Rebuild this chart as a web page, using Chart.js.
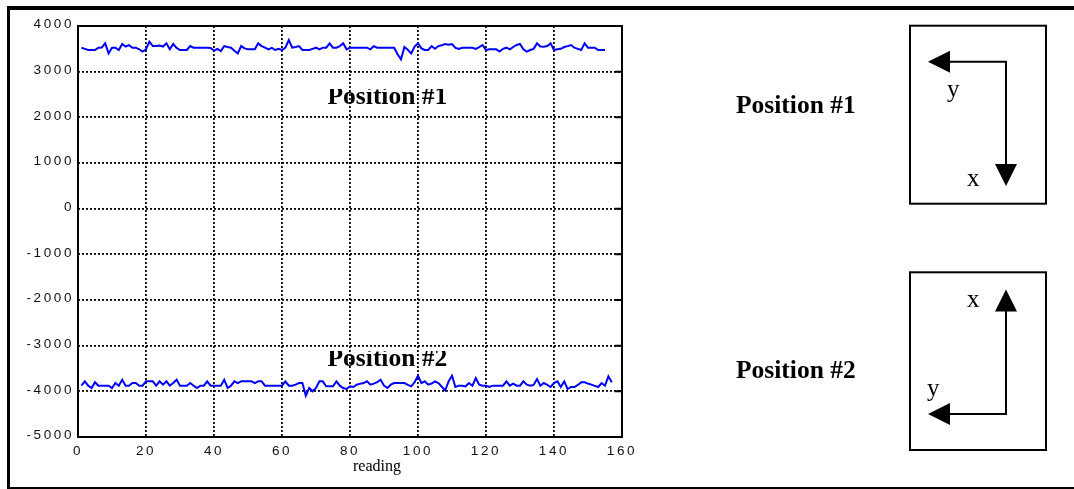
<!DOCTYPE html>
<html>
<head>
<meta charset="utf-8">
<script src="https://cdn.jsdelivr.net/npm/chart.js@4.4.1/dist/chart.umd.min.js"></script>
<style>
  html, body { margin: 0; padding: 0; background: #fff; }
  #wrap { position: relative; width: 1074px; height: 489px; }
  canvas { display: block; }
</style>
</head>
<body>
<div id="wrap"><canvas id="c" width="1074" height="489"></canvas></div>
<script>
// Sensor output per reading, sensor held in two orientations
const position1Values = [
  3525, 3500, 3475, 3475, 3475, 3525, 3530, 3620, 3400, 3525,
  3525, 3475, 3605, 3550, 3580, 3525, 3525, 3490, 3440, 3490,
  3657, 3560, 3560, 3570, 3550, 3620, 3490, 3606, 3520, 3474,
  3474, 3474, 3560, 3525, 3525, 3525, 3525, 3525, 3520, 3460,
  3500, 3450, 3560, 3540, 3525, 3460, 3400, 3560, 3510, 3489,
  3489, 3489, 3620, 3560, 3525, 3489, 3520, 3474, 3500, 3474,
  3525, 3693, 3525, 3540, 3560, 3474, 3474, 3474, 3500, 3525,
  3489, 3525, 3525, 3620, 3525, 3525, 3560, 3620, 3489, 3525,
  3525, 3525, 3525, 3525, 3525, 3489, 3560, 3525, 3525, 3525,
  3525, 3525, 3525, 3380, 3270, 3540, 3480, 3400, 3550, 3620,
  3510, 3474, 3474, 3560, 3500, 3560, 3580, 3606, 3590, 3606,
  3520, 3500, 3525, 3525, 3525, 3525, 3500, 3540, 3584, 3474,
  3489, 3489, 3489, 3440, 3500, 3525, 3489, 3540, 3584, 3606,
  3490, 3438, 3474, 3500, 3620, 3550, 3547, 3560, 3620, 3474,
  3489, 3500, 3540, 3560, 3584, 3525, 3500, 3474, 3620, 3525,
  3525, 3525, 3474, 3474, 3474
];
const position2Values = [
  -3876, -3781, -3876, -3927, -3800, -3876, -3876, -3876, -3876, -3927,
  -3818, -3876, -3745, -3876, -3876, -3818, -3818, -3876, -3876, -3781,
  -3781, -3781, -3876, -3781, -3854, -3781, -3876, -3818, -3745, -3876,
  -3876, -3876, -3818, -3876, -3927, -3876, -3876, -3781, -3876, -3876,
  -3876, -3876, -3745, -3927, -3876, -3781, -3818, -3781, -3781, -3781,
  -3781, -3818, -3781, -3781, -3876, -3876, -3876, -3876, -3876, -3876,
  -3781, -3876, -3876, -3854, -3818, -3818, -4095, -3927, -4000, -3927,
  -3781, -3781, -3890, -3890, -3890, -3781, -3876, -3927, -3949, -3890,
  -3905, -3854, -3832, -3818, -3781, -3854, -3832, -3800, -3745, -3876,
  -3927, -3854, -3818, -3818, -3818, -3818, -3860, -3890, -3800, -3657,
  -3818, -3781, -3854, -3830, -3781, -3818, -3900, -3978, -3781, -3657,
  -3905, -3876, -3876, -3890, -3818, -3876, -3708, -3854, -3876, -3876,
  -3905, -3876, -3876, -3876, -3876, -3781, -3876, -3832, -3876, -3876,
  -3781, -3854, -3876, -3860, -3730, -3876, -3818, -3860, -3905, -3818,
  -3781, -3905, -3781, -3949, -3905, -3905, -3860, -3803, -3803, -3830,
  -3854, -3880, -3905, -3818, -3876, -3671, -3803
];
// Reading numbers start at 1
const readings1 = position1Values.map((_, i) => i + 1);
const readings2 = position2Values.map((_, i) => i + 1);

const xTickValues = [0, 20, 40, 60, 80, 100, 120, 140, 160];
const yTickValues = [4000, 3000, 2000, 1000, 0, -1000, -2000, -3000, -4000, -5000];
const xAxisTitle = 'reading';
const positionLabels = ['Position #1', 'Position #2'];

// In-plot label anchors (data units): centre x, baseline y, clip top y
const labelAnchors = [
  { x: 91, y: 2290, clipTop: 2620 },
  { x: 91, y: -3446, clipTop: -3115 }
];

const TICK_SPACING = '2.6px';
const SERIF = '"Liberation Serif", "Times New Roman", serif';
const SANS = '"Liberation Sans", Arial, sans-serif';

function arrowHead(ctx, tipX, tipY, dir) {
  // dir: 'left' | 'down' | 'up'
  const len = 22, half = 11;
  ctx.beginPath();
  if (dir === 'left') {
    ctx.moveTo(tipX, tipY);
    ctx.lineTo(tipX + len, tipY - half);
    ctx.lineTo(tipX + len, tipY + half);
  } else if (dir === 'down') {
    ctx.moveTo(tipX, tipY);
    ctx.lineTo(tipX - half, tipY - len);
    ctx.lineTo(tipX + half, tipY - len);
  } else {
    ctx.moveTo(tipX, tipY);
    ctx.lineTo(tipX - half, tipY + len);
    ctx.lineTo(tipX + half, tipY + len);
  }
  ctx.closePath();
  ctx.fill();
}

const decorations = {
  id: 'decorations',
  beforeDraw(chart) {
    const ctx = chart.ctx;
    const xs = chart.scales.x, ys = chart.scales.y;
    ctx.save();
    ctx.letterSpacing = '0px';
    ctx.fillStyle = '#000';
    ctx.font = 'bold 25.5px ' + SERIF;
    ctx.textAlign = 'center';
    ctx.textBaseline = 'alphabetic';
    labelAnchors.forEach((a, i) => {
      const px = xs.getPixelForValue(a.x);
      const py = ys.getPixelForValue(a.y);
      const top = ys.getPixelForValue(a.clipTop);
      ctx.save();
      ctx.beginPath();
      ctx.rect(px - 80, top, 160, py - top + 12);
      ctx.clip();
      ctx.fillText(positionLabels[i], px, py);
      ctx.restore();
    });
    ctx.restore();
    ctx.letterSpacing = TICK_SPACING;
  },
  beforeDatasetsDraw(chart) {
    const ctx = chart.ctx;
    const a = chart.chartArea;
    const ys = chart.scales.y;
    ctx.save();
    ctx.strokeStyle = '#000';
    ctx.lineWidth = 2;
    ctx.setLineDash([]);
    ctx.strokeRect(a.left, a.top, a.right - a.left, a.bottom - a.top);
    // short inward ticks on the right edge
    ctx.beginPath();
    yTickValues.forEach(v => {
      const py = ys.getPixelForValue(v);
      ctx.moveTo(a.right - 7, py);
      ctx.lineTo(a.right, py);
    });
    ctx.stroke();
    ctx.restore();
  },
  afterDraw(chart) {
    const ctx = chart.ctx;
    ctx.save();
    ctx.letterSpacing = '0px';
    ctx.fillStyle = '#000';
    ctx.strokeStyle = '#000';

    // outer frame
    ctx.fillRect(7, 6, 1067, 4);
    ctx.fillRect(7, 6, 3, 483);
    ctx.fillRect(7, 487, 1067, 2);

    // x-axis title
    ctx.font = '16px ' + SERIF;
    ctx.textAlign = 'center';
    ctx.textBaseline = 'middle';
    ctx.fillText(xAxisTitle, 377, 467);

    // side captions
    ctx.font = 'bold 25.5px ' + SERIF;
    ctx.textAlign = 'left';
    ctx.textBaseline = 'alphabetic';
    ctx.fillText(positionLabels[0], 736, 113);
    ctx.fillText(positionLabels[1], 736, 378);

    // orientation sketches
    ctx.lineWidth = 2;
    ctx.strokeRect(910, 25.7, 136, 178);
    ctx.strokeRect(910, 272.3, 136, 177.7);

    ctx.beginPath();
    ctx.moveTo(950, 61.7); ctx.lineTo(1006, 61.7); ctx.lineTo(1006, 165);
    ctx.stroke();
    arrowHead(ctx, 928, 61.7, 'left');
    arrowHead(ctx, 1006, 186, 'down');

    ctx.beginPath();
    ctx.moveTo(950, 414); ctx.lineTo(1006, 414); ctx.lineTo(1006, 311);
    ctx.stroke();
    arrowHead(ctx, 928, 414, 'left');
    arrowHead(ctx, 1006, 289.5, 'up');

    ctx.font = '25px ' + SERIF;
    ctx.fillText('y', 947, 96.5);
    ctx.fillText('x', 967, 186);
    ctx.fillText('x', 967, 307);
    ctx.fillText('y', 927, 395.5);
    ctx.restore();
  }
};

const plainNumber = v => String(v);

new Chart(document.getElementById('c'), {
  type: 'line',
  data: {
    datasets: [
      {
        label: positionLabels[0],
        data: readings1.map((r, i) => ({ x: r, y: position1Values[i] })),
        borderColor: '#0000ff', borderWidth: 2, pointRadius: 0, tension: 0, fill: false
      },
      {
        label: positionLabels[1],
        data: readings2.map((r, i) => ({ x: r, y: position2Values[i] })),
        borderColor: '#0000ff', borderWidth: 2, pointRadius: 0, tension: 0, fill: false
      }
    ]
  },
  options: {
    responsive: false,
    animation: false,
    events: [],
    layout: { padding: { top: 26, right: 452, left: 0, bottom: 0 } },
    plugins: { legend: { display: false }, tooltip: { enabled: false } },
    scales: {
      x: {
        type: 'linear', min: 0, max: 160,
        afterBuildTicks: s => { s.ticks = xTickValues.map(v => ({ value: v })); },
        afterFit: s => { s.height = 52; },
        ticks: { font: { family: SANS, size: 13.5 }, color: '#111', padding: 6, maxRotation: 0, autoSkip: false, callback: plainNumber },
        grid: { color: '#000', lineWidth: 1.8, drawTicks: false },
        border: { display: false, dash: [2, 2] }
      },
      y: {
        type: 'linear', min: -5000, max: 4000,
        afterBuildTicks: s => { s.ticks = yTickValues.map(v => ({ value: v })); },
        afterFit: s => { s.width = 78; },
        ticks: { font: { family: SANS, size: 13.5 }, color: '#111', padding: 4, labelOffset: -1.5, autoSkip: false, callback: plainNumber },
        grid: { color: '#000', lineWidth: 1.8, drawTicks: false },
        border: { display: false, dash: [2, 2] }
      }
    }
  },
  plugins: [decorations]
});
</script>
</body>
</html>
